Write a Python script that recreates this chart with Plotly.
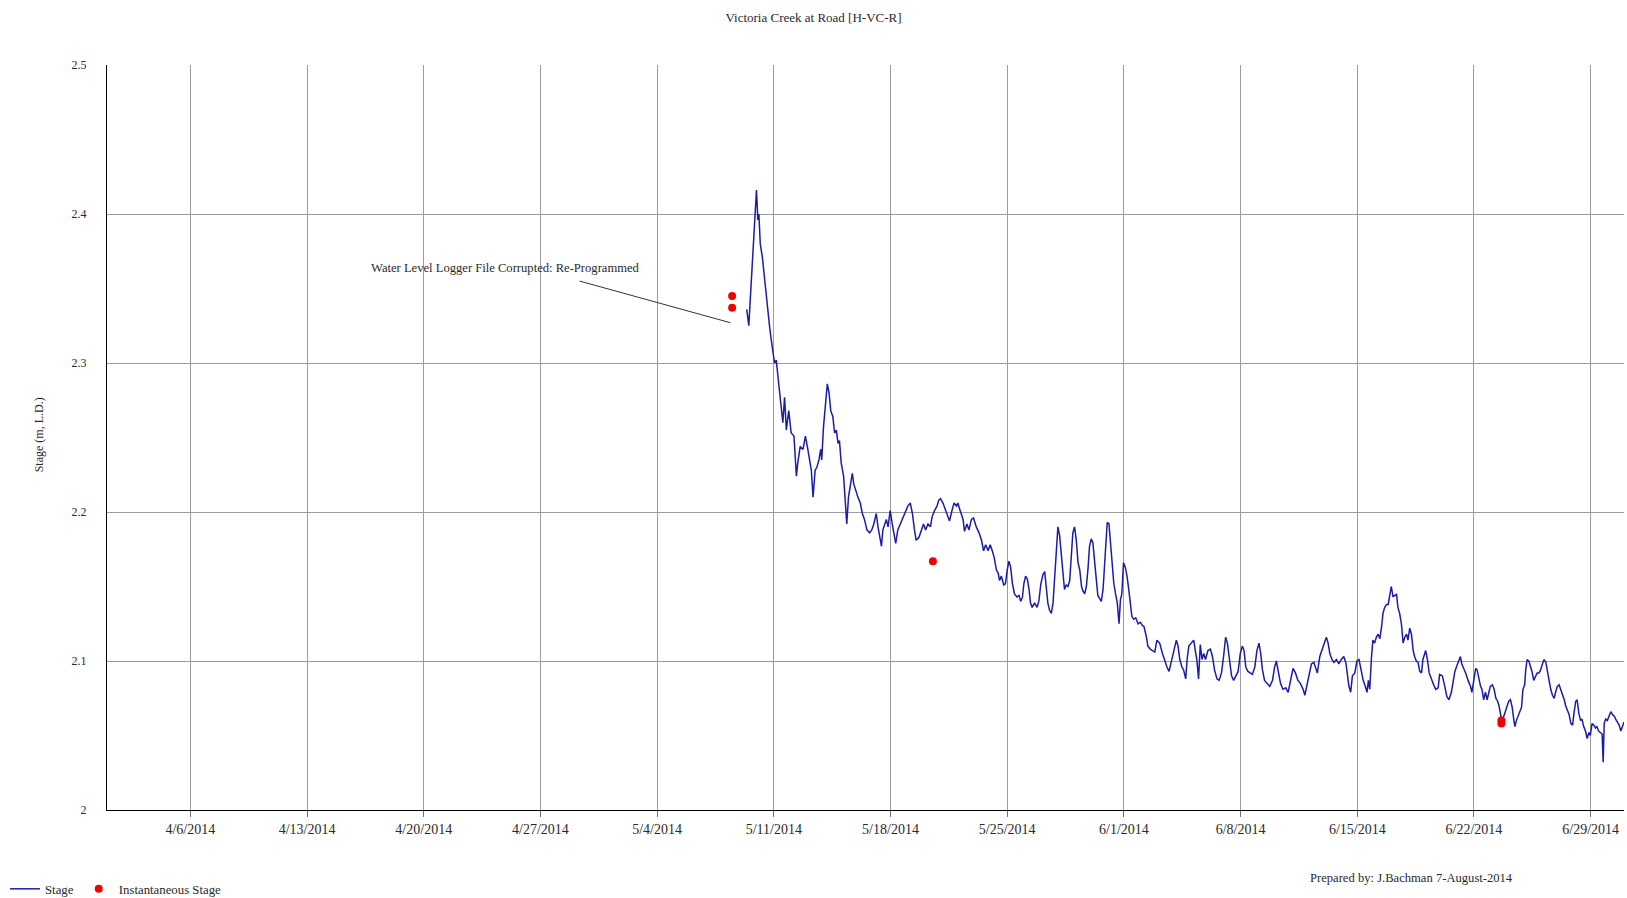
import plotly.graph_objects as go

# ---------------------------------------------------------------------------
# Logger record: stage (m, local datum), Victoria Creek at Road
# ---------------------------------------------------------------------------
stage_times = [
    # 5/9
    "2014-05-09 09:00", "2014-05-09 12:00", "2014-05-09 15:30", "2014-05-09 18:00", "2014-05-09 19:30", "2014-05-09 21:30", "2014-05-09 23:00",
    # 5/10
    "2014-05-10 00:00", "2014-05-10 01:00", "2014-05-10 02:30", "2014-05-10 04:30", "2014-05-10 07:30", "2014-05-10 09:30", "2014-05-10 11:00", "2014-05-10 14:00", "2014-05-10 16:00", "2014-05-10 18:00", "2014-05-10 20:30", "2014-05-10 22:30",
    # 5/11
    "2014-05-11 01:00", "2014-05-11 03:30", "2014-05-11 06:00", "2014-05-11 08:30", "2014-05-11 11:00", "2014-05-11 13:00", "2014-05-11 15:30", "2014-05-11 18:00", "2014-05-11 21:30",
    # 5/12
    "2014-05-12 01:00", "2014-05-12 05:00", "2014-05-12 08:30", "2014-05-12 10:30", "2014-05-12 14:00", "2014-05-12 18:00", "2014-05-12 21:30",
    # 5/13
    "2014-05-13 01:00", "2014-05-13 03:30", "2014-05-13 06:00", "2014-05-13 08:30", "2014-05-13 11:30", "2014-05-13 14:00", "2014-05-13 17:00", "2014-05-13 19:30", "2014-05-13 21:00", "2014-05-13 23:30",
    # 5/14
    "2014-05-14 02:00", "2014-05-14 05:00", "2014-05-14 07:30", "2014-05-14 10:00", "2014-05-14 13:00", "2014-05-14 15:30", "2014-05-14 18:00", "2014-05-14 20:30", "2014-05-14 22:30",
    # 5/15
    "2014-05-15 01:00", "2014-05-15 04:30", "2014-05-15 07:30", "2014-05-15 09:00", "2014-05-15 11:30", "2014-05-15 14:30", "2014-05-15 17:00", "2014-05-15 19:00", "2014-05-15 21:30",
    # 5/16
    "2014-05-16 01:00", "2014-05-16 04:30", "2014-05-16 07:30", "2014-05-16 10:30", "2014-05-16 14:00", "2014-05-16 18:00", "2014-05-16 21:00",
    # 5/17
    "2014-05-17 00:00", "2014-05-17 03:30", "2014-05-17 06:00", "2014-05-17 08:30", "2014-05-17 11:00", "2014-05-17 13:00", "2014-05-17 15:30", "2014-05-17 18:00", "2014-05-17 20:30", "2014-05-17 23:30",
    # 5/18
    "2014-05-18 02:30", "2014-05-18 05:00", "2014-05-18 07:30", "2014-05-18 10:30", "2014-05-18 14:00", "2014-05-18 18:00", "2014-05-18 21:30",
    # 5/19
    "2014-05-19 01:00", "2014-05-19 04:30", "2014-05-19 07:30", "2014-05-19 10:30", "2014-05-19 13:00", "2014-05-19 17:00", "2014-05-19 20:30", "2014-05-19 23:30",
    # 5/20
    "2014-05-20 02:30", "2014-05-20 06:00", "2014-05-20 09:30", "2014-05-20 12:00", "2014-05-20 15:30", "2014-05-20 19:00", "2014-05-20 21:30",
    # 5/21
    "2014-05-21 00:00", "2014-05-21 03:30", "2014-05-21 07:00", "2014-05-21 10:00", "2014-05-21 13:00", "2014-05-21 16:30", "2014-05-21 19:30", "2014-05-21 23:00",
    # 5/22
    "2014-05-22 01:00", "2014-05-22 03:30", "2014-05-22 08:30", "2014-05-22 10:30", "2014-05-22 14:00", "2014-05-22 17:00", "2014-05-22 20:30", "2014-05-22 23:30",
    # 5/23
    "2014-05-23 03:30", "2014-05-23 07:30", "2014-05-23 11:00", "2014-05-23 14:00", "2014-05-23 17:00", "2014-05-23 20:30", "2014-05-23 23:30",
    # 5/24
    "2014-05-24 02:30", "2014-05-24 05:00", "2014-05-24 08:30", "2014-05-24 11:00", "2014-05-24 13:00", "2014-05-24 15:30", "2014-05-24 19:00", "2014-05-24 21:30",
    # 5/25
    "2014-05-25 00:00", "2014-05-25 02:30", "2014-05-25 05:00", "2014-05-25 07:30", "2014-05-25 10:30", "2014-05-25 14:00", "2014-05-25 17:00", "2014-05-25 19:30", "2014-05-25 22:00",
    # 5/26
    "2014-05-26 00:00", "2014-05-26 02:30", "2014-05-26 05:00", "2014-05-26 07:30", "2014-05-26 09:30", "2014-05-26 12:00", "2014-05-26 15:30", "2014-05-26 19:00", "2014-05-26 21:30",
    # 5/27
    "2014-05-27 00:30", "2014-05-27 03:30", "2014-05-27 06:00", "2014-05-27 08:30", "2014-05-27 10:30", "2014-05-27 13:00", "2014-05-27 15:30", "2014-05-27 18:00", "2014-05-27 20:30", "2014-05-27 23:00",
    # 5/28
    "2014-05-28 01:00", "2014-05-28 03:30", "2014-05-28 06:00", "2014-05-28 08:30", "2014-05-28 10:30", "2014-05-28 13:00", "2014-05-28 15:30", "2014-05-28 18:00", "2014-05-28 20:30", "2014-05-28 22:30",
    # 5/29
    "2014-05-29 01:00", "2014-05-29 03:30", "2014-05-29 06:00", "2014-05-29 08:30", "2014-05-29 11:00", "2014-05-29 13:00", "2014-05-29 15:30", "2014-05-29 18:00", "2014-05-29 20:30", "2014-05-29 22:30",
    # 5/30
    "2014-05-30 01:00", "2014-05-30 03:30", "2014-05-30 06:00", "2014-05-30 08:30", "2014-05-30 10:30", "2014-05-30 13:00", "2014-05-30 15:30", "2014-05-30 18:00", "2014-05-30 20:30", "2014-05-30 23:00",
    # 5/31
    "2014-05-31 00:00", "2014-05-31 02:30", "2014-05-31 04:30", "2014-05-31 07:30", "2014-05-31 09:30", "2014-05-31 12:00", "2014-05-31 14:30", "2014-05-31 17:00", "2014-05-31 19:00", "2014-05-31 21:00", "2014-05-31 23:30",
    # 6/1
    "2014-06-01 02:00", "2014-06-01 04:30", "2014-06-01 07:00", "2014-06-01 09:30", "2014-06-01 11:30", "2014-06-01 14:00", "2014-06-01 17:00", "2014-06-01 20:30", "2014-06-01 23:30",
    # 6/2
    "2014-06-02 02:30", "2014-06-02 05:00", "2014-06-02 08:30", "2014-06-02 10:30", "2014-06-02 14:00", "2014-06-02 18:00", "2014-06-02 20:30", "2014-06-02 23:30",
    # 6/3
    "2014-06-03 03:30", "2014-06-03 07:30", "2014-06-03 10:30", "2014-06-03 14:00", "2014-06-03 17:00", "2014-06-03 20:30", "2014-06-03 23:30",
    # 6/4
    "2014-06-04 03:30", "2014-06-04 06:00", "2014-06-04 08:30", "2014-06-04 11:30", "2014-06-04 14:00", "2014-06-04 17:00", "2014-06-04 19:00", "2014-06-04 21:30",
    # 6/5
    "2014-06-05 01:00", "2014-06-05 04:30", "2014-06-05 07:30", "2014-06-05 09:00", "2014-06-05 11:30", "2014-06-05 14:00", "2014-06-05 16:30", "2014-06-05 19:00", "2014-06-05 21:30",
    # 6/6
    "2014-06-06 01:00", "2014-06-06 04:30", "2014-06-06 07:30", "2014-06-06 10:30", "2014-06-06 14:00", "2014-06-06 17:00", "2014-06-06 20:30", "2014-06-06 23:30",
    # 6/7
    "2014-06-07 02:30", "2014-06-07 05:00", "2014-06-07 08:30", "2014-06-07 11:00", "2014-06-07 14:00", "2014-06-07 17:00", "2014-06-07 20:30", "2014-06-07 23:30",
    # 6/8
    "2014-06-08 02:30", "2014-06-08 05:00", "2014-06-08 07:30", "2014-06-08 10:30", "2014-06-08 14:00", "2014-06-08 17:00", "2014-06-08 20:30", "2014-06-08 23:30",
    # 6/9
    "2014-06-09 02:30", "2014-06-09 05:00", "2014-06-09 07:30", "2014-06-09 10:30", "2014-06-09 14:00", "2014-06-09 18:00", "2014-06-09 22:00",
    # 6/10
    "2014-06-10 01:00", "2014-06-10 03:30", "2014-06-10 07:00", "2014-06-10 09:30", "2014-06-10 13:00", "2014-06-10 17:00", "2014-06-10 20:30", "2014-06-10 23:30",
    # 6/11
    "2014-06-11 03:30", "2014-06-11 07:00", "2014-06-11 10:30", "2014-06-11 14:00", "2014-06-11 18:00", "2014-06-11 20:30", "2014-06-11 23:30",
    # 6/12
    "2014-06-12 02:30", "2014-06-12 06:00", "2014-06-12 09:30", "2014-06-12 12:00", "2014-06-12 14:30", "2014-06-12 18:00", "2014-06-12 21:00",
    # 6/13
    "2014-06-13 00:00", "2014-06-13 03:30", "2014-06-13 06:00", "2014-06-13 08:30", "2014-06-13 11:30", "2014-06-13 14:30", "2014-06-13 18:00", "2014-06-13 21:30",
    # 6/14
    "2014-06-14 01:00", "2014-06-14 04:30", "2014-06-14 07:30", "2014-06-14 10:00", "2014-06-14 12:00", "2014-06-14 14:30", "2014-06-14 17:00", "2014-06-14 20:30", "2014-06-14 23:30",
    # 6/15
    "2014-06-15 02:30", "2014-06-15 05:00", "2014-06-15 08:30", "2014-06-15 11:30", "2014-06-15 14:00", "2014-06-15 16:00", "2014-06-15 18:00", "2014-06-15 20:30", "2014-06-15 22:30",
    # 6/16
    "2014-06-16 01:00", "2014-06-16 03:30", "2014-06-16 06:00", "2014-06-16 08:30", "2014-06-16 11:00", "2014-06-16 13:00", "2014-06-16 15:30", "2014-06-16 18:00", "2014-06-16 20:30", "2014-06-16 22:30",
    # 6/17
    "2014-06-17 01:00", "2014-06-17 03:30", "2014-06-17 06:00", "2014-06-17 08:30", "2014-06-17 10:30", "2014-06-17 13:00", "2014-06-17 15:30", "2014-06-17 18:00", "2014-06-17 20:30", "2014-06-17 23:00",
    # 6/18
    "2014-06-18 01:00", "2014-06-18 03:30", "2014-06-18 06:00", "2014-06-18 08:30", "2014-06-18 10:30", "2014-06-18 13:00", "2014-06-18 15:30", "2014-06-18 18:00", "2014-06-18 20:30", "2014-06-18 22:30",
    # 6/19
    "2014-06-19 02:30", "2014-06-19 05:00", "2014-06-19 07:30", "2014-06-19 11:00", "2014-06-19 14:00", "2014-06-19 17:00", "2014-06-19 20:30", "2014-06-19 22:30",
    # 6/20
    "2014-06-20 02:30", "2014-06-20 06:00", "2014-06-20 09:00", "2014-06-20 12:00", "2014-06-20 15:30", "2014-06-20 18:00", "2014-06-20 20:30", "2014-06-20 23:30",
    # 6/21
    "2014-06-21 02:30", "2014-06-21 04:30", "2014-06-21 06:30", "2014-06-21 09:30", "2014-06-21 12:00", "2014-06-21 15:30", "2014-06-21 19:00", "2014-06-21 21:00", "2014-06-21 23:30",
    # 6/22
    "2014-06-22 02:30", "2014-06-22 04:30", "2014-06-22 07:00", "2014-06-22 09:30", "2014-06-22 11:30", "2014-06-22 14:00", "2014-06-22 16:30", "2014-06-22 19:00", "2014-06-22 21:30", "2014-06-22 23:30",
    # 6/23
    "2014-06-23 02:30", "2014-06-23 05:00", "2014-06-23 07:30", "2014-06-23 10:00", "2014-06-23 12:00", "2014-06-23 13:30", "2014-06-23 16:00", "2014-06-23 19:00", "2014-06-23 23:00",
    # 6/24
    "2014-06-24 02:00", "2014-06-24 04:30", "2014-06-24 07:00", "2014-06-24 09:30", "2014-06-24 11:00", "2014-06-24 13:00", "2014-06-24 15:30", "2014-06-24 18:00", "2014-06-24 20:30", "2014-06-24 22:30",
    # 6/25
    "2014-06-25 01:00", "2014-06-25 02:30", "2014-06-25 04:30", "2014-06-25 07:00", "2014-06-25 09:30", "2014-06-25 11:30", "2014-06-25 14:00", "2014-06-25 16:30", "2014-06-25 19:00", "2014-06-25 21:30",
    # 6/26
    "2014-06-26 00:00", "2014-06-26 02:30", "2014-06-26 05:00", "2014-06-26 07:30", "2014-06-26 10:00", "2014-06-26 12:00", "2014-06-26 14:30", "2014-06-26 17:00", "2014-06-26 19:30", "2014-06-26 21:30",
    # 6/27
    "2014-06-27 00:00", "2014-06-27 02:30", "2014-06-27 05:00", "2014-06-27 07:30", "2014-06-27 10:00", "2014-06-27 12:00", "2014-06-27 14:30", "2014-06-27 17:00", "2014-06-27 19:30", "2014-06-27 22:00",
    # 6/28
    "2014-06-28 00:00", "2014-06-28 02:30", "2014-06-28 04:30", "2014-06-28 07:00", "2014-06-28 09:30", "2014-06-28 11:30", "2014-06-28 14:00", "2014-06-28 16:30", "2014-06-28 19:00", "2014-06-28 21:30", "2014-06-28 23:30",
    # 6/29
    "2014-06-29 02:00", "2014-06-29 04:30", "2014-06-29 07:00", "2014-06-29 09:00", "2014-06-29 11:30", "2014-06-29 14:00", "2014-06-29 16:30", "2014-06-29 18:00", "2014-06-29 19:30", "2014-06-29 21:30",
    # 6/30
    "2014-06-30 00:00", "2014-06-30 02:30", "2014-06-30 05:00", "2014-06-30 07:30", "2014-06-30 10:00", "2014-06-30 12:00", "2014-06-30 14:30", "2014-06-30 17:00", "2014-06-30 19:30", "2014-06-30 22:00",
    # 7/1
    "2014-07-01 00:00",
]

stage_m = [
    # 5/9
    2.336, 2.325, 2.354, 2.374, 2.389, 2.403, 2.416,
    # 5/10
    2.407, 2.396, 2.400, 2.380, 2.371, 2.362, 2.351, 2.340, 2.331, 2.324, 2.315, 2.309,
    # 5/11
    2.300, 2.302, 2.291, 2.280, 2.273, 2.260, 2.277, 2.255, 2.268,
    # 5/12
    2.253, 2.251, 2.224, 2.233, 2.244, 2.242, 2.251,
    # 5/13
    2.242, 2.235, 2.228, 2.210, 2.228, 2.230, 2.235, 2.242, 2.235, 2.257,
    # 5/14
    2.268, 2.286, 2.280, 2.268, 2.264, 2.253, 2.255, 2.246, 2.248,
    # 5/15
    2.233, 2.224, 2.206, 2.192, 2.210, 2.219, 2.226, 2.219, 2.215,
    # 5/16
    2.210, 2.206, 2.199, 2.195, 2.188, 2.186, 2.188,
    # 5/17
    2.192, 2.199, 2.190, 2.183, 2.177, 2.188, 2.192, 2.195, 2.190, 2.201,
    # 5/18
    2.192, 2.186, 2.179, 2.188, 2.192, 2.197, 2.201,
    # 5/19
    2.204, 2.206, 2.199, 2.188, 2.181, 2.183, 2.188, 2.192,
    # 5/20
    2.188, 2.192, 2.190, 2.197, 2.201, 2.204, 2.208,
    # 5/21
    2.209, 2.206, 2.201, 2.197, 2.194, 2.201, 2.206, 2.204,
    # 5/22
    2.206, 2.202, 2.195, 2.187, 2.192, 2.188, 2.195, 2.196,
    # 5/23
    2.190, 2.186, 2.181, 2.174, 2.178, 2.174, 2.178,
    # 5/24
    2.174, 2.170, 2.161, 2.159, 2.154, 2.157, 2.151, 2.152,
    # 5/25
    2.161, 2.167, 2.163, 2.152, 2.145, 2.143, 2.144, 2.140, 2.143,
    # 5/26
    2.152, 2.157, 2.155, 2.148, 2.139, 2.136, 2.139, 2.136, 2.140,
    # 5/27
    2.152, 2.158, 2.160, 2.145, 2.139, 2.134, 2.132, 2.139, 2.157, 2.179,
    # 5/28
    2.190, 2.184, 2.170, 2.159, 2.148, 2.151, 2.150, 2.154, 2.172, 2.186,
    # 5/29
    2.190, 2.181, 2.166, 2.161, 2.150, 2.147, 2.145, 2.150, 2.163, 2.177,
    # 5/30
    2.182, 2.179, 2.166, 2.154, 2.144, 2.142, 2.140, 2.148, 2.168, 2.188,
    # 5/31
    2.193, 2.192, 2.179, 2.166, 2.152, 2.145, 2.139, 2.125, 2.141, 2.145, 2.166,
    # 6/1
    2.163, 2.157, 2.148, 2.139, 2.130, 2.128, 2.129, 2.125, 2.126,
    # 6/2
    2.124, 2.123, 2.116, 2.110, 2.108, 2.107, 2.106, 2.114,
    # 6/3
    2.112, 2.105, 2.100, 2.096, 2.093, 2.100, 2.107,
    # 6/4
    2.114, 2.110, 2.101, 2.096, 2.094, 2.088, 2.101, 2.110,
    # 6/5
    2.112, 2.114, 2.105, 2.101, 2.088, 2.111, 2.101, 2.105, 2.101,
    # 6/6
    2.107, 2.108, 2.103, 2.094, 2.088, 2.087, 2.092, 2.103,
    # 6/7
    2.116, 2.112, 2.101, 2.090, 2.087, 2.090, 2.093, 2.105,
    # 6/8
    2.110, 2.107, 2.096, 2.093, 2.092, 2.091, 2.096, 2.107,
    # 6/9
    2.112, 2.105, 2.094, 2.087, 2.085, 2.083, 2.087,
    # 6/10
    2.096, 2.100, 2.092, 2.085, 2.081, 2.082, 2.079, 2.087,
    # 6/11
    2.095, 2.092, 2.087, 2.085, 2.081, 2.077, 2.083,
    # 6/12
    2.090, 2.098, 2.099, 2.096, 2.092, 2.103, 2.107,
    # 6/13
    2.112, 2.116, 2.112, 2.105, 2.101, 2.099, 2.101, 2.098,
    # 6/14
    2.101, 2.103, 2.099, 2.090, 2.083, 2.079, 2.090, 2.092, 2.100,
    # 6/15
    2.101, 2.094, 2.087, 2.083, 2.079, 2.087, 2.081, 2.103, 2.114,
    # 6/16
    2.112, 2.116, 2.118, 2.115, 2.123, 2.132, 2.136, 2.138, 2.138, 2.145,
    # 6/17
    2.150, 2.143, 2.144, 2.145, 2.136, 2.132, 2.125, 2.112, 2.116, 2.118,
    # 6/18
    2.114, 2.122, 2.118, 2.107, 2.103, 2.100, 2.099, 2.093, 2.092, 2.101,
    # 6/19
    2.107, 2.101, 2.092, 2.087, 2.084, 2.081, 2.082, 2.091,
    # 6/20
    2.090, 2.083, 2.076, 2.074, 2.079, 2.086, 2.093, 2.097,
    # 6/21
    2.101, 2.103, 2.098, 2.095, 2.092, 2.087, 2.083, 2.079, 2.087,
    # 6/22
    2.095, 2.094, 2.087, 2.083, 2.081, 2.074, 2.079, 2.074, 2.079, 2.083,
    # 6/23
    2.084, 2.081, 2.075, 2.073, 2.070, 2.067, 2.060, 2.063, 2.069,
    # 6/24
    2.073, 2.074, 2.069, 2.060, 2.056, 2.060, 2.063, 2.067, 2.069, 2.081,
    # 6/25
    2.084, 2.094, 2.101, 2.100, 2.096, 2.093, 2.087, 2.090, 2.092, 2.092,
    # 6/26
    2.094, 2.098, 2.101, 2.099, 2.092, 2.087, 2.081, 2.077, 2.075, 2.079,
    # 6/27
    2.083, 2.084, 2.081, 2.077, 2.074, 2.070, 2.067, 2.064, 2.058, 2.057,
    # 6/28
    2.065, 2.073, 2.074, 2.065, 2.060, 2.061, 2.056, 2.053, 2.048, 2.052, 2.050,
    # 6/29
    2.058, 2.057, 2.055, 2.056, 2.053, 2.052, 2.051, 2.032, 2.058, 2.061,
    # 6/30
    2.060, 2.063, 2.066, 2.064, 2.063, 2.061, 2.059, 2.057, 2.053, 2.057,
    # 7/1
    2.059,
]

# Manual (staff gauge) instantaneous stage readings
inst_times = ["2014-05-08 12:00", "2014-05-08 12:00", "2014-05-20 13:00",
              "2014-06-23 15:30", "2014-06-23 15:30"]
inst_m = [2.345, 2.337, 2.167, 2.060, 2.058]

# Axis ticks
week_ticks = ["2014-04-06", "2014-04-13", "2014-04-20", "2014-04-27", "2014-05-04",
              "2014-05-11", "2014-05-18", "2014-05-25", "2014-06-01", "2014-06-08",
              "2014-06-15", "2014-06-22", "2014-06-29"]
week_labels = ["4/6/2014", "4/13/2014", "4/20/2014", "4/27/2014", "5/4/2014",
               "5/11/2014", "5/18/2014", "5/25/2014", "6/1/2014", "6/8/2014",
               "6/15/2014", "6/22/2014", "6/29/2014"]
stage_ticks = [2.0, 2.1, 2.2, 2.3, 2.4, 2.5]
stage_labels = ["2", "2.1", "2.2", "2.3", "2.4", "2.5"]

# Field note about the logger file
note_text = "Water Level Logger File Corrupted: Re-Programmed"
note_at = ("2014-04-24 21:30", 2.364)
leader_from = ("2014-04-29 08:20", 2.355)
leader_to = ("2014-05-08 09:40", 2.327)

SERIF = "Liberation Serif, Times New Roman, serif"
TEXT = "#2a2a2a"
GRID = "#9c9c9c"

fig = go.Figure()

fig.add_trace(go.Scatter(
    x=stage_times, y=stage_m, mode="lines", name="Stage",
    line=dict(color="#1c1ca8", width=1.5),
))

fig.add_trace(go.Scatter(
    x=inst_times, y=inst_m, mode="markers", name="Instantaneous Stage",
    marker=dict(color="#f00000", size=8, line=dict(width=0)),
))

fig.add_shape(
    type="line", xref="x", yref="y",
    x0=leader_from[0], y0=leader_from[1], x1=leader_to[0], y1=leader_to[1],
    line=dict(color="#333333", width=1),
)

fig.add_annotation(
    x=note_at[0], y=note_at[1], xref="x", yref="y", text=note_text,
    showarrow=False, xanchor="center", yanchor="middle",
    font=dict(family=SERIF, size=12.6, color=TEXT),
)

fig.add_annotation(
    x=0.86, y=-0.0913, xref="paper", yref="paper",
    xanchor="center", yanchor="middle",
    text="Prepared by: J.Bachman 7-August-2014", showarrow=False,
    font=dict(family=SERIF, size=12.6, color=TEXT),
)

fig.add_annotation(
    x=-0.0448, y=0.503, xref="paper", yref="paper",
    xanchor="center", yanchor="middle",
    text="Stage (m, L.D.)", textangle=-90, showarrow=False,
    font=dict(family=SERIF, size=12, color=TEXT),
)

fig.update_layout(
    width=1627, height=898,
    margin=dict(l=107, r=3, t=65, b=88),
    paper_bgcolor="white", plot_bgcolor="white",
    font=dict(family=SERIF, size=12, color=TEXT),
    title=dict(
        text="Victoria Creek at Road [H-VC-R]",
        x=0.5, xanchor="center", y=1 - 17.5 / 898, yanchor="middle",
        font=dict(family=SERIF, size=13, color=TEXT),
    ),
    showlegend=True,
    legend=dict(
        orientation="h", xref="container", yref="container",
        x=5 / 1627, xanchor="left", y=9 / 898, yanchor="middle",
        font=dict(family=SERIF, size=12.8, color=TEXT),
        bgcolor="rgba(0,0,0,0)", itemwidth=30,
    ),
    xaxis=dict(
        type="date", range=["2014-04-01", "2014-07-01"],
        tickmode="array", tickvals=week_ticks, ticktext=week_labels,
        showgrid=True, gridcolor=GRID, gridwidth=1,
        showline=True, linecolor="black", linewidth=1,
        ticks="outside", ticklen=6, tickcolor="#6f6f6f",
        tickfont=dict(family=SERIF, size=14, color=TEXT),
        zeroline=False,
    ),
    yaxis=dict(
        range=[2.0, 2.5],
        tickmode="array", tickvals=stage_ticks, ticktext=stage_labels,
        showgrid=True, gridcolor=GRID, gridwidth=1,
        showline=True, linecolor="black", linewidth=1,
        ticks="", ticklabelstandoff=17,
        tickfont=dict(family=SERIF, size=12, color=TEXT),
        zeroline=False,
    ),
)

fig.write_html("out.html")
